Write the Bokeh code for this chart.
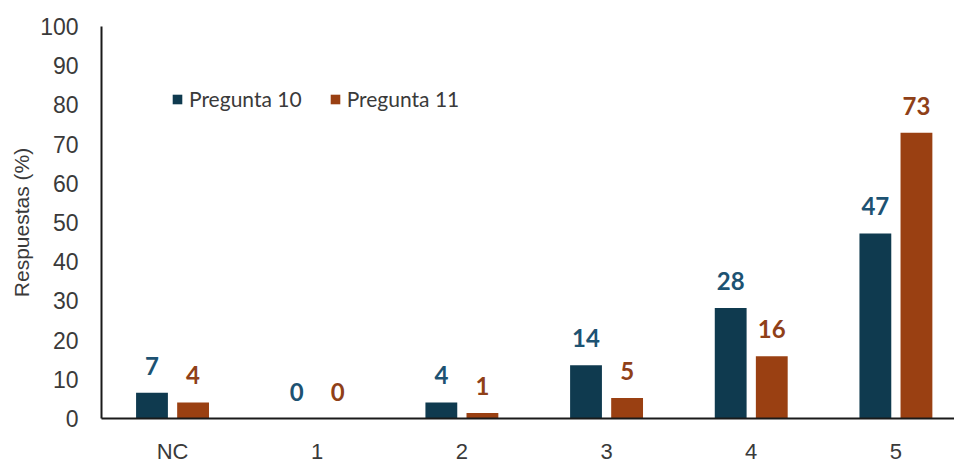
from bokeh.plotting import figure
from bokeh.models import ColumnDataSource, Range1d, FixedTicker, Legend, LegendItem, LabelSet
from bokeh.core.properties import value
from bokeh.embed import file_html
from bokeh.resources import INLINE

categories = ["NC", "1", "2", "3", "4", "5"]
p10_values = [6.6, 0, 4.1, 13.6, 28.2, 47.2]
p11_values = [4.1, 0, 1.4, 5.2, 15.9, 72.9]
p10_labels = ["7", "0", "4", "14", "28", "47"]
p11_labels = ["4", "0", "1", "5", "16", "73"]
y_ticks = [0, 10, 20, 30, 40, 50, 60, 70, 80, 90, 100]

idx = list(range(len(categories)))
src10 = ColumnDataSource(dict(x=[i - 0.142 for i in idx], top=p10_values, lab=p10_labels))
src11 = ColumnDataSource(dict(x=[i + 0.142 for i in idx], top=p11_values, lab=p11_labels))

C10 = "#0f3a4f"
C11 = "#9a4012"
L10 = "#1d5272"
L11 = "#8f4018"

p = figure(width=954, height=466, output_backend="svg", toolbar_location=None,
           x_range=Range1d(-0.491, 5.405), y_range=Range1d(0, 100),
           min_border_left=101, min_border_right=0, min_border_top=26, min_border_bottom=0)
p.outline_line_color = None
p.grid.visible = False
p.background_fill_color = "white"
p.border_fill_color = "white"

r10 = p.vbar(x="x", top="top", width=0.22, bottom=0, source=src10, fill_color=C10, line_color=None)
r11 = p.vbar(x="x", top="top", width=0.22, bottom=0, source=src11, fill_color=C11, line_color=None)

for src, col in ((src10, L10), (src11, L11)):
    ls = LabelSet(x="x", y="top", text="lab", source=src, text_align="center",
                  text_baseline="middle", y_offset=27, text_color=col,
                  text_font=value("Lato"), text_font_style="bold", text_font_size="24px")
    p.add_layout(ls)

# axes
p.yaxis.ticker = FixedTicker(ticks=y_ticks)
p.xaxis.ticker = FixedTicker(ticks=idx)
p.xaxis.major_label_overrides = {i: c for i, c in zip(idx, categories)}
for ax in (p.xaxis, p.yaxis):
    ax.major_tick_line_color = None
    ax.minor_tick_line_color = None
    ax.major_tick_out = 0
    ax.major_tick_in = 0
    ax.axis_line_color = "#1a1a1a"
    ax.axis_line_width = 2
    ax.major_label_text_font = "Liberation Sans"
    ax.major_label_text_color = "#3a3a3a"
p.xaxis.major_label_text_font_size = "22px"
p.yaxis.major_label_text_font_size = "23px"
p.yaxis.major_label_standoff = 23
p.xaxis.major_label_standoff = 20
p.yaxis.axis_label = "Respuestas (%)"
p.yaxis.axis_label_text_font = "Liberation Sans"
p.yaxis.axis_label_text_font_size = "21px"
p.yaxis.axis_label_text_font_style = "normal"
p.yaxis.axis_label_text_color = "#3a3a3a"
p.yaxis.axis_label_standoff = 4

legend = Legend(items=[LegendItem(label="Pregunta 10", renderers=[r10]),
                       LegendItem(label="Pregunta 11", renderers=[r11])],
                orientation="horizontal", location=(70, 307),
                label_text_font="Lato", label_text_font_size="21px", label_text_color="#3a3a3a",
                glyph_width=12, glyph_height=12, label_standoff=6, spacing=27,
                padding=0, margin=0, border_line_color=None, background_fill_alpha=0)
p.add_layout(legend, "center")

open("out.html", "w").write(file_html(p, INLINE))
